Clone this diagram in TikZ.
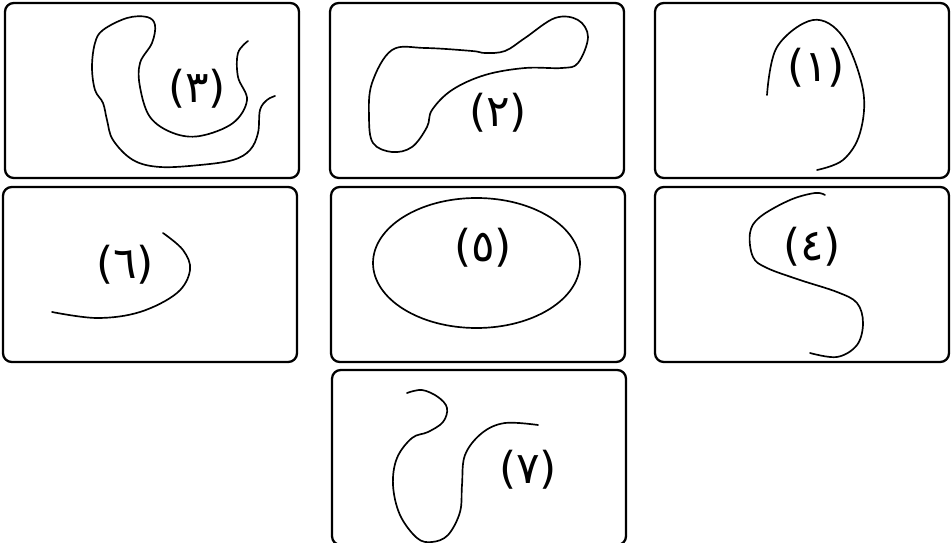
\documentclass[tikz,border=0pt]{standalone}
\usepackage{fontspec}
\newfontfamily\arabicfont[Script=Arabic]{DejaVu Sans}
\begin{document}
\begin{tikzpicture}[x=0.02cm,y=-0.02cm,line join=round,line cap=round,
  panel/.style={draw,line width=1.3pt,rounded corners=5pt},
  shapeline/.style={draw,line width=0.95pt},
  num/.style={font=\arabicfont\fontsize{25}{27}\selectfont,inner sep=0pt}]
\clip (0,0) rectangle (952,543);
% panels
\foreach \x/\y in {5/3,330/3,655/3,3/187,331/187,655/187,332/370} {\draw[panel] (\x,\y) rectangle ++(294,175);}
% labels
\node[num] (n1) at (816,68) {(١)};
\node[num] (n2) at (498,113) {(٢)};
\node[num] (n3) at (197,89) {(٣)};
\node[num] (n4) at (812,247) {(٤)};
\node[num] (n5) at (483,248) {(٥)};
\node[num] (n6) at (125,265) {(٦)};
\node[num] (n7) at (528,470) {(٧)};
% curve 1
\draw[shapeline] plot[smooth,tension=0.6] coordinates {(767,95) (777,47) (813,20) (843,37) (863,90) (860,133) (843,160) (817,170)};
% curve 2
\draw[shapeline] plot[smooth cycle,tension=0.6] coordinates {(372,83) (392,50) (425,48) (472,51) (485,53) (505,51) (525,38) (555,18) (578,20) (588,37) (578,63) (562,68) (525,68) (485,75) (452,90) (432,110) (427,127) (412,147) (392,152) (373,143) (369,117)};
% curve 3
\draw[shapeline] plot[smooth,tension=0.6] coordinates {(248,41) (238,53) (238,77) (247,100) (233,123) (200,136) (173,133) (150,117) (140,87) (140,63) (152,43) (155,25) (147,17) (127,18) (103,30) (95,43) (92,67) (95,90) (103,103) (107,120) (113,140) (133,160) (160,167) (200,165) (233,160) (250,150) (258,133) (260,110) (267,100) (275,96)};
% curve 4
\draw[shapeline] plot[smooth,tension=0.6] coordinates {(825,195) (815,193) (790,200) (760,217) (750,233) (753,257) (767,268) (800,280) (837,292) (857,303) (863,323) (857,345) (837,357) (810,353)};
% curve 5
\draw[shapeline] (476.5,263) ellipse [x radius=103.5,y radius=65];
% curve 6
\draw[shapeline] plot[smooth,tension=0.6] coordinates {(52,312) (97,318) (140,312) (177,293) (190,270) (183,250) (163,233)};
% curve 7
\draw[shapeline] plot[smooth,tension=0.6] coordinates {(407,393) (422,390) (438,397) (447,408) (443,422) (428,432) (412,438) (397,458) (393,485) (400,515) (417,538) (432,542) (448,535) (460,512) (462,485) (465,455) (482,433) (505,423) (538,425)};
\end{tikzpicture}
\end{document}
